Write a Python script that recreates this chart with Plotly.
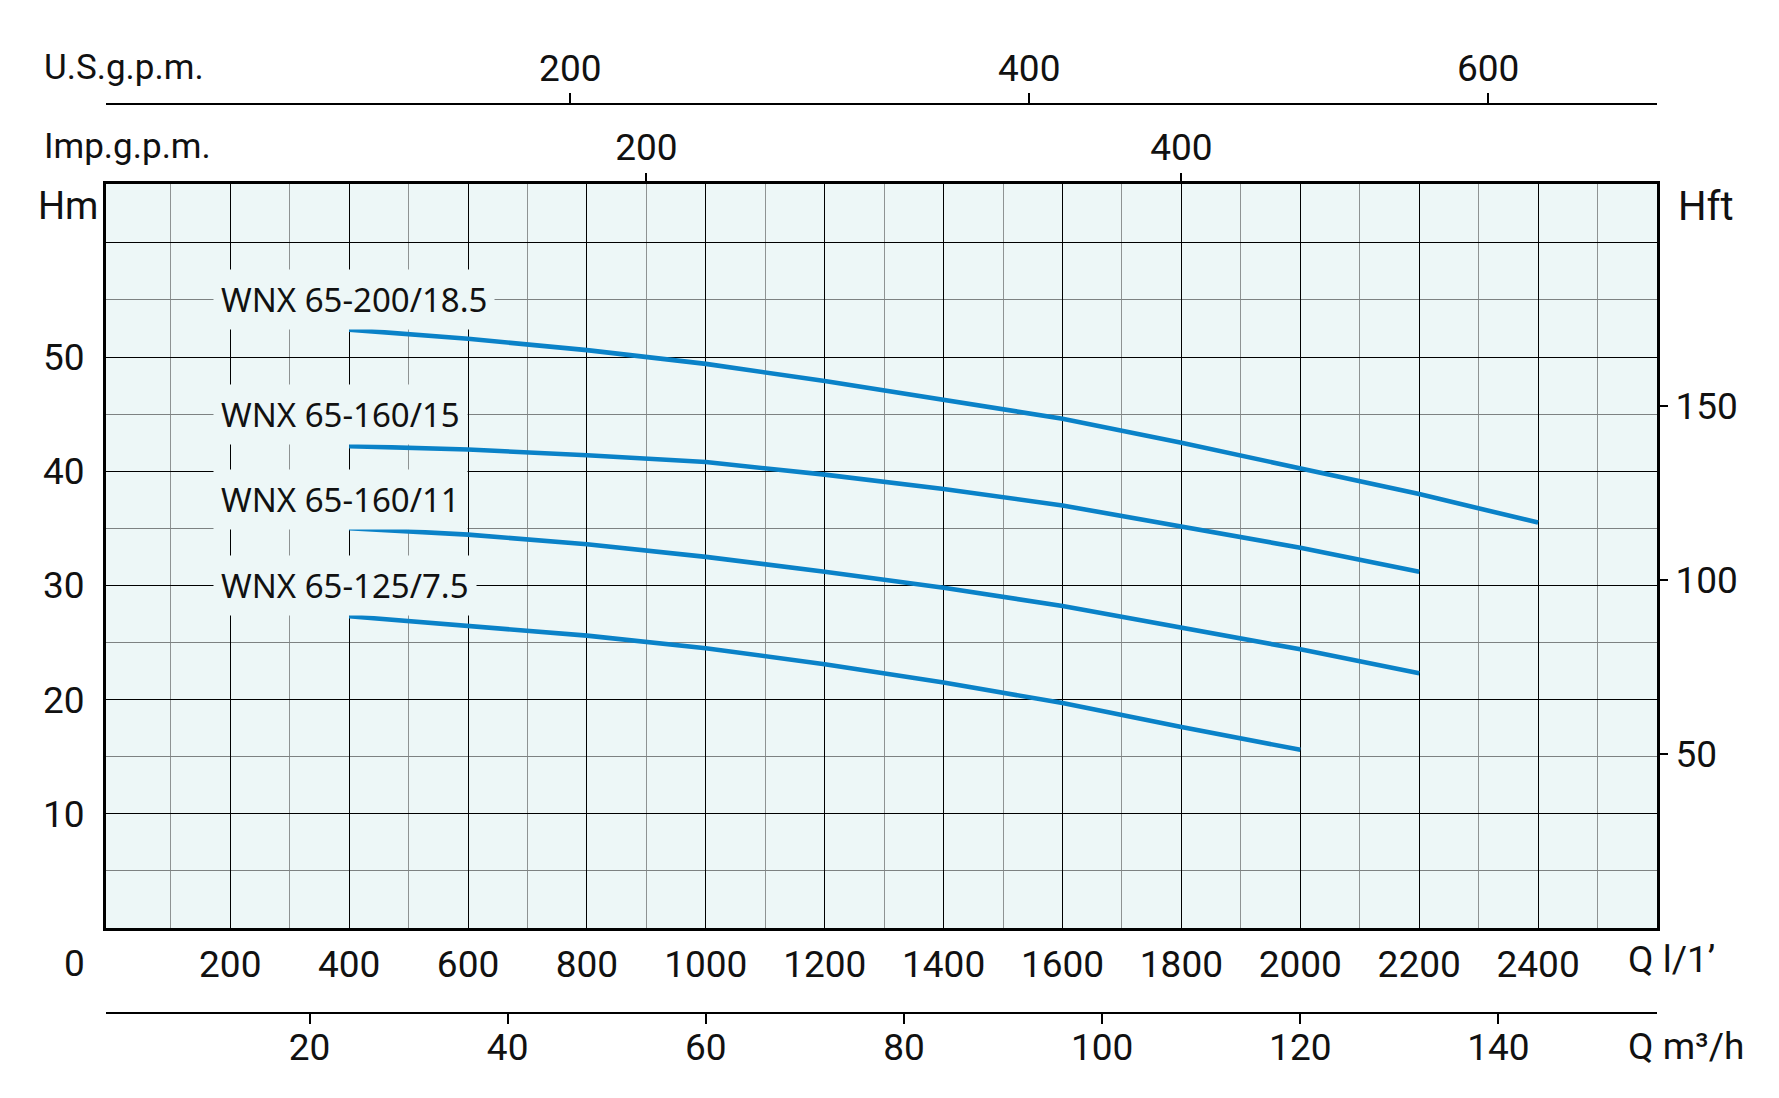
import plotly.graph_objects as go

# ---------------- data ----------------
Q_18_5 = [400, 600, 800, 1000, 1200, 1400, 1600, 1800, 2000, 2200, 2400]
H_18_5 = [52.4, 51.6, 50.6, 49.4, 47.9, 46.3, 44.6, 42.5, 40.3, 38.0, 35.5]

Q_15 = [400, 600, 800, 1000, 1200, 1400, 1600, 1800, 2000, 2200]
H_15 = [42.2, 41.9, 41.4, 40.8, 39.7, 38.45, 37.0, 35.15, 33.3, 31.2]

Q_11 = [400, 600, 800, 1000, 1200, 1400, 1600, 1800, 2000, 2200]
H_11 = [35.0, 34.45, 33.6, 32.5, 31.2, 29.8, 28.2, 26.35, 24.4, 22.3]

Q_7_5 = [400, 600, 800, 1000, 1200, 1400, 1600, 1800, 2000]
H_7_5 = [27.3, 26.5, 25.6, 24.5, 23.1, 21.5, 19.7, 17.6, 15.6]

series_names = ["WNX 65-200/18.5", "WNX 65-160/15", "WNX 65-160/11", "WNX 65-125/7.5"]
label_heights = [55, 45, 37.5, 30]          # m, where each model name sits
label_q = 184                               # l/min, left edge of the names

lpm_ticks = [200, 400, 600, 800, 1000, 1200, 1400, 1600, 1800, 2000, 2200, 2400]
lpm_minor = [100, 300, 500, 700, 900, 1100, 1300, 1500, 1700, 1900, 2100, 2300, 2500]
hm_ticks = [10, 20, 30, 40, 50, 60]
hm_labels = ["10", "20", "30", "40", "50", ""]
hm_minor = [5, 15, 25, 35, 45, 55]
hft_ticks = [50, 100, 150]
imp_ticks = [200, 400]
us_ticks = [200, 400, 600]
m3h_ticks = [20, 40, 60, 80, 100, 120, 140]

# unit conversions (gallon scales as printed on the sheet)
M_TO_FT = 3.28084
L_PER_IMP_GAL = 4.50
L_PER_US_GAL = 3.86
LPM_PER_M3H = 1000 / 60

X_RANGE = [-9, 2600]
Y_RANGE = [0, 65.15]

# ---------------- style ----------------
FONT = "Roboto, Noto Sans, sans-serif"
LABEL_FONT = "Noto Sans, Open Sans, sans-serif"
BG = "#edf7f7"
BLUE = "#0a82c8"
W, H = 1779, 1098
ML, MR, MT, MB = 106, 122, 104, 85
PW, PH = W - ML - MR, H - MT - MB
TICK_SIZE = 37


def px_x(p):
    return (p - ML) / PW


def px_y(p):
    return (H - MB - p) / PH


Y_DOMAIN = [px_y(928), px_y(184)]

fig = go.Figure()
for q, h in [(Q_18_5, H_18_5), (Q_15, H_15), (Q_11, H_11), (Q_7_5, H_7_5)]:
    fig.add_trace(go.Scatter(x=q, y=h, mode="lines",
                             line=dict(color=BLUE, width=4.6, shape="linear"),
                             showlegend=False, hoverinfo="skip"))

# invisible copies so that the secondary unit axes are drawn
for xa, ya, yvals in [("x2", "y", H_18_5), ("x3", "y", H_18_5), ("x4", "y", H_18_5),
                      ("x", "y2", [h * M_TO_FT for h in H_18_5])]:
    fig.add_trace(go.Scatter(x=Q_18_5, y=yvals, xaxis=xa, yaxis=ya, mode="lines",
                             opacity=0, line=dict(width=0), showlegend=False,
                             hoverinfo="skip"))

tickfont = dict(family=FONT, size=TICK_SIZE, color="#111")

fig.update_layout(
    width=W, height=H,
    margin=dict(l=ML, r=MR, t=MT, b=MB),
    paper_bgcolor="white", plot_bgcolor=BG,
    showlegend=False,
    xaxis=dict(range=X_RANGE, domain=[0, 1], anchor="y",
               tickmode="array", tickvals=lpm_ticks, ticktext=[str(v) for v in lpm_ticks],
               ticks="", ticklabelstandoff=2, tickfont=tickfont,
               showgrid=True, gridcolor="#000", gridwidth=1.4,
               minor=dict(tickmode="array", tickvals=lpm_minor, showgrid=True,
                          gridcolor="#8e9393", gridwidth=1.2, ticks=""),
               showline=True, linecolor="#000", linewidth=3, mirror=True,
               zeroline=False, fixedrange=True),
    yaxis=dict(range=Y_RANGE, domain=Y_DOMAIN, anchor="x",
               tickmode="array", tickvals=hm_ticks, ticktext=hm_labels,
               ticks="", ticklabelstandoff=11, tickfont=tickfont,
               showgrid=True, gridcolor="#000", gridwidth=1.4,
               minor=dict(tickmode="array", tickvals=hm_minor, showgrid=True,
                          gridcolor="#7d8282", gridwidth=1.2, ticks=""),
               showline=True, linecolor="#000", linewidth=3, mirror=True,
               zeroline=False, fixedrange=True),
    # right axis: head in feet
    yaxis2=dict(range=[v * M_TO_FT for v in Y_RANGE], domain=Y_DOMAIN, overlaying="y",
                side="right", anchor="x",
                tickmode="array", tickvals=hft_ticks, ticktext=[str(v) for v in hft_ticks],
                ticks="outside", ticklen=10, tickwidth=2, tickcolor="#000",
                ticklabelstandoff=0, tickfont=tickfont,
                showgrid=False, showline=False, zeroline=False, fixedrange=True),
    # top axis: Imp gpm on the frame
    xaxis2=dict(range=X_RANGE, domain=[0, 1], overlaying="x", side="top", anchor="y",
                tickmode="array", tickvals=[v * L_PER_IMP_GAL for v in imp_ticks],
                ticktext=[str(v) for v in imp_ticks],
                ticks="outside", ticklen=10, tickwidth=1.5, tickcolor="#000",
                ticklabelstandoff=-2, tickfont=tickfont,
                showgrid=False, showline=False, zeroline=False, fixedrange=True),
    # top-most axis: US gpm
    xaxis3=dict(range=X_RANGE, domain=[0, 1], overlaying="x", side="top",
                anchor="free", position=1,
                tickmode="array", tickvals=[v * L_PER_US_GAL for v in us_ticks],
                ticktext=[str(v) for v in us_ticks],
                ticks="outside", ticklen=10, tickwidth=1.5, tickcolor="#000",
                ticklabelstandoff=-3, tickfont=tickfont,
                showline=True, linecolor="#000", linewidth=2,
                showgrid=False, zeroline=False, fixedrange=True),
    # bottom-most axis: m3/h
    xaxis4=dict(range=X_RANGE, domain=[0, 1], overlaying="x", side="bottom",
                anchor="free", position=0,
                tickmode="array", tickvals=[v * LPM_PER_M3H for v in m3h_ticks],
                ticktext=[str(v) for v in m3h_ticks],
                ticks="outside", ticklen=10, tickwidth=1.5, tickcolor="#000",
                ticklabelstandoff=-8, tickfont=tickfont,
                showline=True, linecolor="#000", linewidth=2,
                showgrid=False, zeroline=False, fixedrange=True),
)

ann = []
for name, yv in zip(series_names, label_heights):
    ann.append(dict(x=label_q, y=yv, xref="x", yref="y", text=name,
                    xanchor="left", yanchor="middle", showarrow=False,
                    font=dict(family=LABEL_FONT, size=33, color="#111"),
                    bgcolor=BG, borderpad=7, xshift=-8))


def txt(text, x, y, anchor="left", size=TICK_SIZE):
    ann.append(dict(x=px_x(x), y=px_y(y), xref="paper", yref="paper", text=text,
                    xanchor=anchor, yanchor="middle", showarrow=False,
                    font=dict(family=FONT, size=size, color="#111")))


txt("U.S.g.p.m.", 42, 68, size=35)
txt("Imp.g.p.m.", 42, 147, size=35)
txt("Hm", 36, 206, size=38)
txt("Hft", 1676, 206, size=40)
txt("0", 74, 963, anchor="center")
txt("Q l/1’", 1626, 959)
txt("Q m³/h", 1626, 1046)

fig.update_layout(annotations=ann)

fig.write_html("out.html", include_plotlyjs=True,
               config={"displayModeBar": False},
               post_script="document.body.style.margin='0';document.body.style.overflow='hidden';")
